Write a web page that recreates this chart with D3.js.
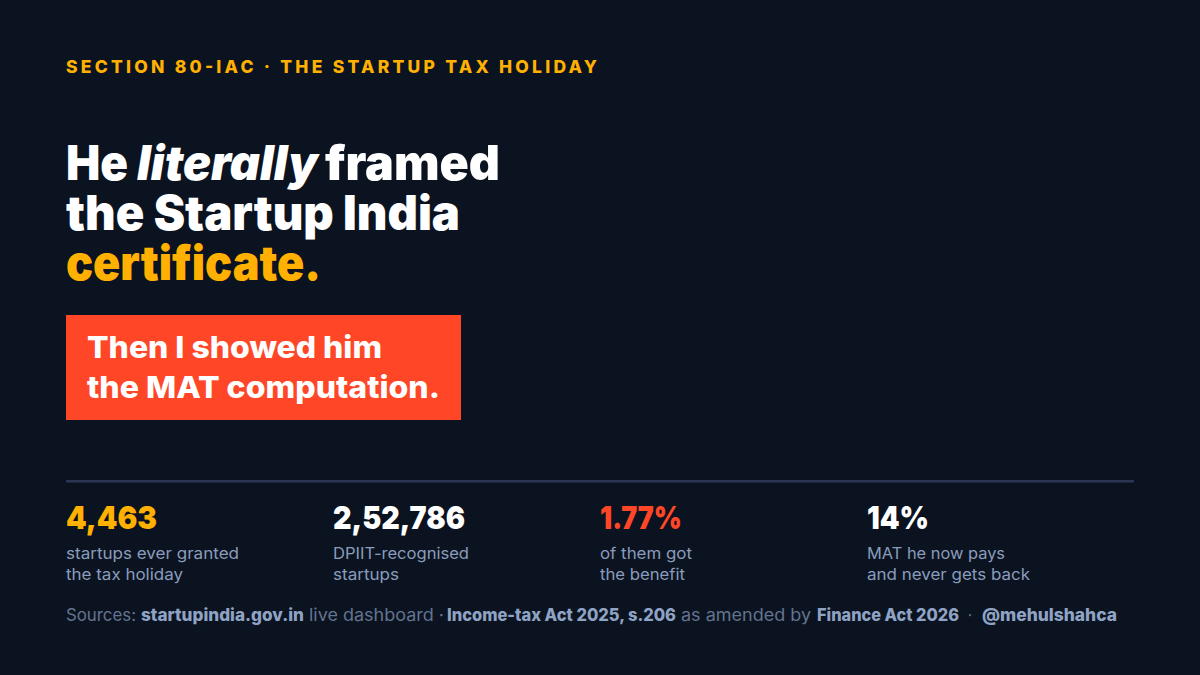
<!DOCTYPE html>
<html><head><meta charset="utf-8">
<script src="https://cdn.jsdelivr.net/npm/d3@7/dist/d3.min.js"></script>
<style>html,body{margin:0;padding:0;background:#0b1320;overflow:hidden}svg{display:block}text{font-family:Inter,"Noto Sans",sans-serif;white-space:pre}</style>
</head><body><svg id="c" width="1200" height="675"></svg>
<script>
const eyebrow = "SECTION 80-IAC · THE STARTUP TAX HOLIDAY";
const headlineLine1 = ["He", "literally", "framed"];
const headlineLine2 = "the Startup India";
const headlineLine3 = "certificate.";
const calloutLines = ["Then I showed him", "the MAT computation."];
const statValues = ["4,463", "2,52,786", "1.77%", "14%"];
const statLabels = [["startups ever granted","the tax holiday"],["DPIIT-recognised","startups"],["of them got","the benefit"],["MAT he now pays","and never gets back"]];
const sourceParts = ["Sources:", "startupindia.gov.in", "live dashboard ·", "Income-tax Act 2025, s.206", "as amended by", "Finance Act 2026", "·", "@mehulshahca"];

const C = {bg:"#0b1320", amber:"#ffb000", white:"#ffffff", red:"#ff4626", rule:"#2a3654", label:"#8a9cbc", src:"#64748f", srcB:"#8fa3c4"};
const svg = d3.select("#c");
svg.append("rect").attr("width",1200).attr("height",675).attr("fill",C.bg);

function put(str,x,y,w,o){
  return svg.append("text").attr("x",x).attr("y",y).text(str)
    .attr("font-size",o.size).attr("font-weight",o.weight).attr("fill",o.fill)
    .attr("font-style",o.style||"normal")
    .attr("textLength",w).attr("lengthAdjust",o.adjust||"spacingAndGlyphs");
}
put(eyebrow,66,73,531,{size:17.5,weight:800,fill:C.amber,adjust:"spacing"});

const h={size:48,weight:900,fill:C.white};
const l1=[[66,62],[137,181,"italic"],[325,175]];
headlineLine1.forEach((s,i)=>put(s,l1[i][0],180,l1[i][1],{...h,style:l1[i][2]}));
put(headlineLine2,66,230,394,h);
put(headlineLine3,66,280,255,{...h,fill:C.amber});

svg.append("rect").attr("x",66).attr("y",315).attr("width",395).attr("height",105).attr("fill",C.red);
[[358,295],[398,353]].forEach((d,i)=>put(calloutLines[i],87,d[0],d[1],{size:30,weight:800,fill:C.white}));

svg.append("rect").attr("x",66).attr("y",480).attr("width",1068).attr("height",2.5).attr("fill",C.rule);

const col=d3.scaleBand().domain(d3.range(statValues.length)).range([66,1134]);
const vw=[91,132,82,62], vc=[C.amber,C.white,C.red,C.white];
const lw=[[173,117],[136,66],[92,85],[138,163]];
statValues.forEach((v,i)=>{
  put(v,col(i),529,vw[i],{size:32,weight:900,fill:vc[i]});
  statLabels[i].forEach((t,j)=>put(t,col(i),559+j*21,lw[i][j],{size:16,weight:400,fill:C.label}));
});

const sx=[[66,70],[141,163,1],[309,135],[447,229,1],[681,130],[817,142,1],[968,4],[982,135,1]];
sourceParts.forEach((s,i)=>put(s,sx[i][0],621,sx[i][1],{size:17,weight:sx[i][2]?800:400,fill:sx[i][2]?C.srcB:C.src}));
</script></body></html>
